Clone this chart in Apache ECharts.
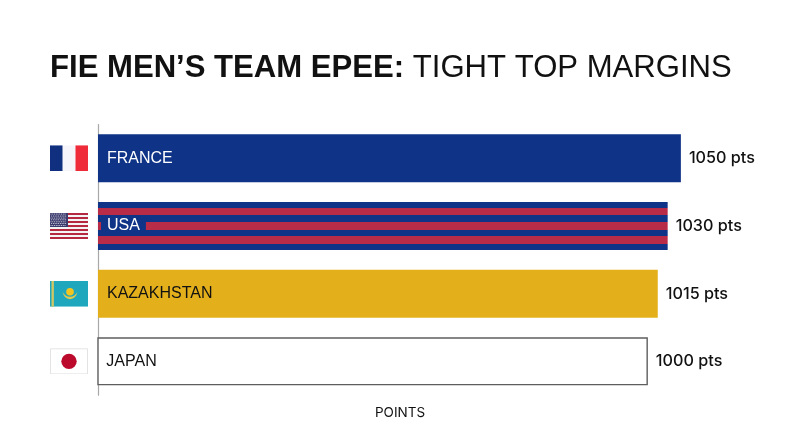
<!DOCTYPE html>
<html><head><meta charset="utf-8">
<style>html,body{margin:0;padding:0;background:#fff}#c{width:800px;height:447px}</style>
<script src="https://cdn.jsdelivr.net/npm/echarts@6/dist/echarts.min.js"></script>
</head><body><div id="c"></div>
<script>
const categories = ['FRANCE','USA','KAZAKHSTAN','JAPAN'];
const points = [1050,1030,1015,1000];
const unit = 'pts';
const axisName = 'POINTS';
const titleBold = 'FIE MEN\u2019S TEAM EPEE:';
const titleLight = ' TIGHT TOP MARGINS';

const FONT = 'Inter, "Liberation Sans", sans-serif';
const LABEL_FONT = '"Liberation Sans", Arial, sans-serif';
const BLUE = '#0f3386', RED = '#b92c47', GOLD = '#e3b01c', INK = '#111111';

function svgUri(body, w, h) {
  return 'data:image/svg+xml;charset=utf-8,' + encodeURIComponent(
    `<svg xmlns="http://www.w3.org/2000/svg" width="${w*3}" height="${h*3}" viewBox="0 0 ${w} ${h}">${body}</svg>`);
}
const usStripes = Array.from({length:7},(_, i)=>`<rect x="0" y="${i*4}" width="38" height="2" fill="#b5283f"/>`).join('');
const usStars = (() => { let s=''; for(let r=0;r<7;r++) for(let c=0;c<9;c++) s+=`<circle cx="${1+c*1.75+(r%2?0.6:0)}" cy="${1.1+r*1.9}" r="0.5" fill="#e8e8f0"/>`; return s; })();
const flags = {
  FRANCE: svgUri('<rect width="38" height="26" fill="#f6f6fa"/><rect width="12.5" height="26" fill="#10307f"/><rect x="25.5" width="12.5" height="26" fill="#ef2b39"/>',38,26),
  USA: svgUri('<rect width="38" height="26" fill="#f4f4f4"/>'+usStripes+'<rect width="18" height="14" fill="#3c3b6e"/>'+usStars,38,26),
  KAZAKHSTAN: svgUri('<rect width="38" height="26" fill="#1fa7bd"/><rect x="1.5" width="2.4" height="26" fill="#cfc765"/><circle cx="20" cy="11" r="3.8" fill="#f5c51f"/><path d="M12.5 11 Q14 18 20 18.5 Q26 18 27.5 11 Q25 16 20 16 Q15 16 12.5 11Z" fill="#e2c94a"/>',38,26),
  JAPAN: svgUri('<rect x="0.4" y="0.4" width="37.2" height="25.2" fill="#fff" stroke="#d8d8d8" stroke-width="0.8"/><circle cx="19" cy="13" r="7.7" fill="#bc0a2d"/>',38,26)
};
const rich = {};
categories.forEach(c => { rich[c] = {width:38,height:26,backgroundColor:{image:flags[c]}}; });

const styles = {
  FRANCE:{color:BLUE},
  USA:{color:{type:'linear',x:0,y:0,x2:0,y2:1,colorStops:[
    [0,BLUE],[.125,BLUE],[.125,RED],[.275,RED],[.275,BLUE],[.415,BLUE],[.415,RED],[.575,RED],[.575,BLUE],[.715,BLUE],[.715,RED],[.87,RED],[.87,BLUE],[1,BLUE]
  ].map(s=>({offset:s[0],color:s[1]}))}},
  KAZAKHSTAN:{color:GOLD},
  JAPAN:{color:'#fff',borderColor:'#5e5e5e',borderWidth:1.4}
};
const labelColor = {FRANCE:'#fff',USA:'#fff',KAZAKHSTAN:INK,JAPAN:INK};

const chart = echarts.init(document.getElementById('c'),null,{renderer:'canvas'});
chart.setOption({
  animation:false,
  backgroundColor:'#fff',
  title:{left:45,top:42,text:`{b|${titleBold}}{l|${titleLight}}`,
    textStyle:{rich:{
      b:{fontFamily:LABEL_FONT,fontSize:31.1,fontWeight:700,color:INK,lineHeight:42},
      l:{fontFamily:LABEL_FONT,fontSize:31.1,fontWeight:400,color:INK,lineHeight:42}
    }}},
  grid:{left:98,width:604,top:124.5,height:270.7,containLabel:false},
  xAxis:{type:'value',min:167,max:1082,axisLine:{show:false},axisTick:{show:false},axisLabel:{show:false},splitLine:{show:false},
    name:axisName,nameLocation:'middle',nameGap:11,nameTextStyle:{fontFamily:FONT,fontSize:13.5,color:INK,verticalAlign:'top'}},
  yAxis:{type:'category',inverse:true,data:categories,
    axisLine:{show:true,lineStyle:{color:'#a8a8a8',width:1.2}},axisTick:{show:false},
    axisLabel:{margin:10,formatter:v=>`{${v}| }`,rich}},
  series:[
    {type:'bar',barWidth:48,barGap:'-100%',silent:true,
     data:categories.map((c,i)=>({value:points[i],itemStyle:styles[c],
       label:{show:true,position:'insideLeft',distance:3,padding:[0,6,0,6],
         backgroundColor:c==='USA'?BLUE:'transparent',
         formatter:c,fontFamily:LABEL_FONT,fontSize:16,color:labelColor[c]}}))},
    {type:'bar',barWidth:48,barGap:'-100%',silent:true,itemStyle:{color:'rgba(0,0,0,0)'},
     data:points.slice(),
     label:{show:true,position:'right',distance:8,formatter:p=>`${p.value} ${unit}`,fontFamily:FONT,fontSize:16.2,fontWeight:500,color:INK}}
  ]
});
</script></body></html>
